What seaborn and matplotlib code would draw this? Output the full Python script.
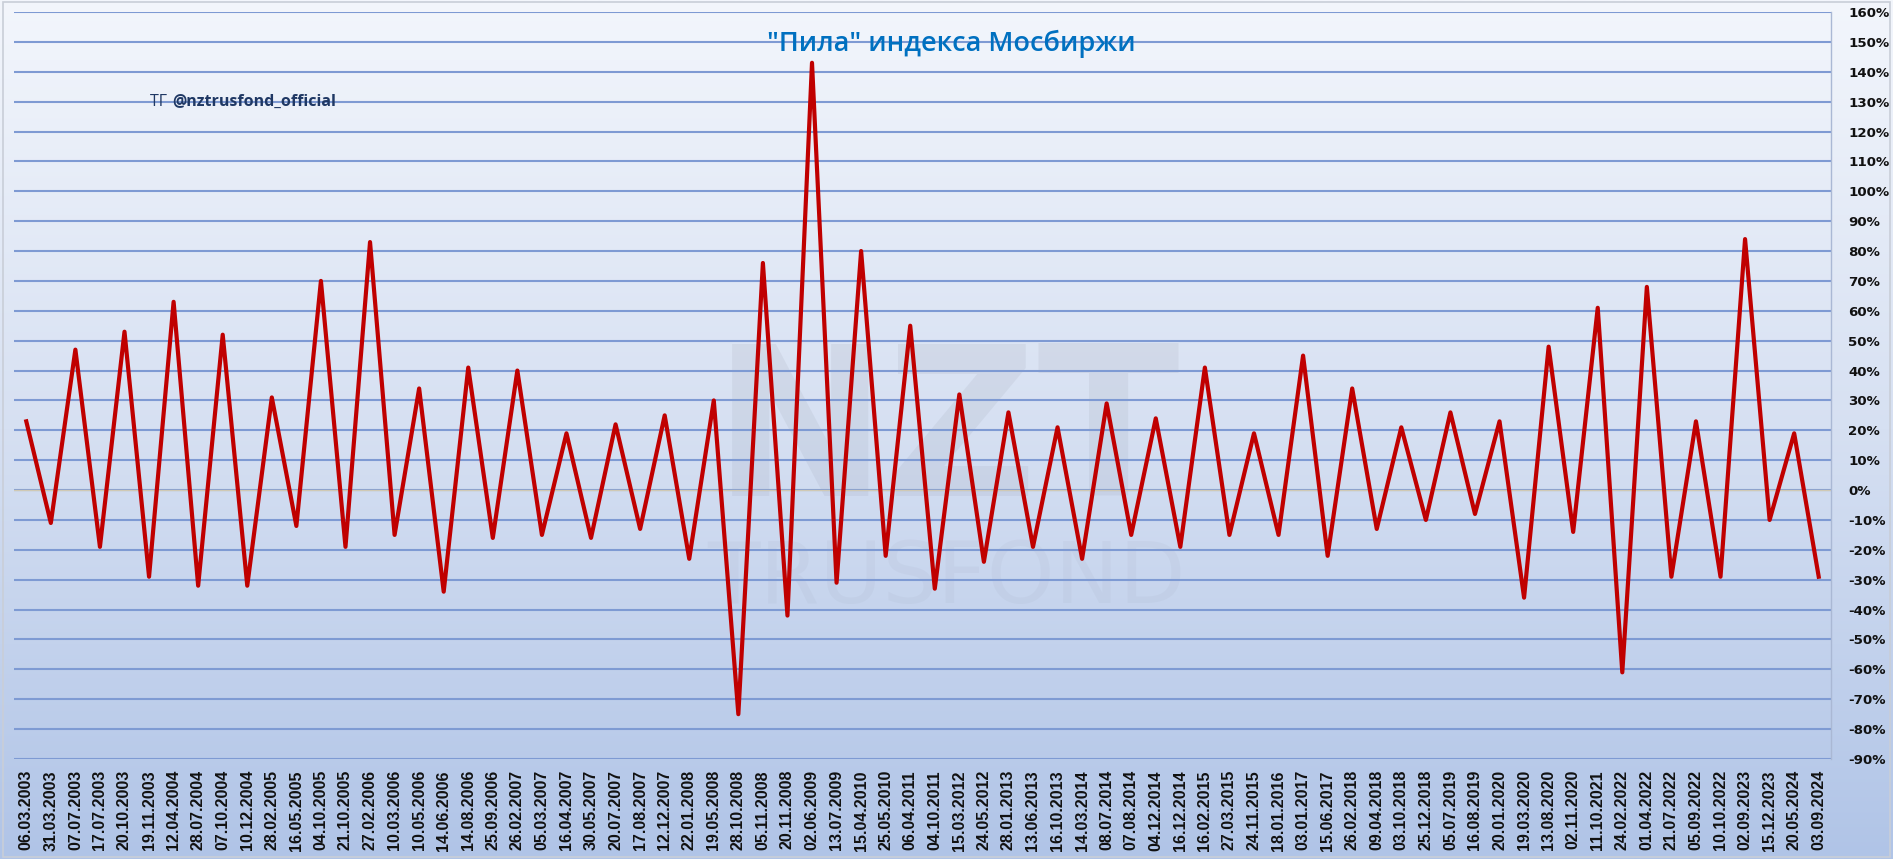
import numpy as np
import pandas as pd
import matplotlib
matplotlib.use("Agg")
import matplotlib.pyplot as plt
import seaborn as sns
from matplotlib.ticker import MultipleLocator, FuncFormatter

dates = [
    "06.03.2003", "31.03.2003", "07.07.2003", "17.07.2003", "20.10.2003", "19.11.2003",
    "12.04.2004", "28.07.2004", "07.10.2004", "10.12.2004", "28.02.2005", "16.05.2005",
    "04.10.2005", "21.10.2005", "27.02.2006", "10.03.2006", "10.05.2006", "14.06.2006",
    "14.08.2006", "25.09.2006", "26.02.2007", "05.03.2007", "16.04.2007", "30.05.2007",
    "20.07.2007", "17.08.2007", "12.12.2007", "22.01.2008", "19.05.2008", "28.10.2008",
    "05.11.2008", "20.11.2008", "02.06.2009", "13.07.2009", "15.04.2010", "25.05.2010",
    "06.04.2011", "04.10.2011", "15.03.2012", "24.05.2012", "28.01.2013", "13.06.2013",
    "16.10.2013", "14.03.2014", "08.07.2014", "07.08.2014", "04.12.2014", "16.12.2014",
    "16.02.2015", "27.03.2015", "24.11.2015", "18.01.2016", "03.01.2017", "15.06.2017",
    "26.02.2018", "09.04.2018", "03.10.2018", "25.12.2018", "05.07.2019", "16.08.2019",
    "20.01.2020", "19.03.2020", "13.08.2020", "02.11.2020", "11.10.2021", "24.02.2022",
    "01.04.2022", "21.07.2022", "05.09.2022", "10.10.2022", "02.09.2023", "15.12.2023",
    "20.05.2024", "03.09.2024",
]
changes_pct = [
    23, -11, 47, -19, 53, -29, 63, -32, 52, -32, 31, -12,
    70, -19, 83, -15, 34, -34, 41, -16, 40, -15, 19, -16,
    22, -13, 25, -23, 30, -75, 76, -42, 143, -31, 80, -22,
    55, -33, 32, -24, 26, -19, 21, -23, 29, -15, 24, -19,
    41, -15, 19, -15, 45, -22, 34, -13, 21, -10, 26, -8,
    23, -36, 48, -14, 61, -61, 68, -29, 23, -29, 84, -10,
    19, -29,
]
title_text = '"Пила" индекса Мосбиржи'
tg_prefix = "ТГ "
tg_handle = "@nztrusfond_official"

df = pd.DataFrame({"date": dates, "change": changes_pct})

W, H = 1893, 859
fig = plt.figure(figsize=(W / 100, H / 100), dpi=100)

# background gradient (chart area)
bg = fig.add_axes([0, 0, 1, 1], zorder=-5)
top = np.array([243, 246, 252]) / 255
mid = np.array([214, 224, 242]) / 255
bot = np.array([176, 196, 231]) / 255
t = np.linspace(0, 1, 400)[:, None]
grad = np.where(t < 0.5, top + (mid - top) * (t / 0.5), mid + (bot - mid) * ((t - 0.5) / 0.5))
img = np.repeat(grad[:, None, :], 2, axis=1)
bg.imshow(img, aspect="auto", extent=[0, 1, 0, 1], origin="upper")
bg.set_xlim(0, 1); bg.set_ylim(0, 1)
bg.axis("off")
# faint watermark
bg.text(0.5, 0.49, "NZT", fontsize=150, fontweight="bold", color="#7a7f8f", alpha=0.10,
        ha="center", va="center", family="DejaVu Sans")
bg.text(0.5, 0.325, "TRUSFOND", fontsize=62, color="#7a7f8f", alpha=0.06,
        ha="center", va="center", family="DejaVu Sans")
bg.add_patch(plt.Rectangle((0.0015, 0.002), 0.997, 0.996, fill=False, ec="#c9ced8", lw=1.2))

left, right = 14 / W, 1831 / W
bottom_px, top_px = 759, 12
ax = fig.add_axes([left, 1 - bottom_px / H, right - left, (bottom_px - top_px) / H])
ax.set_facecolor("none")

sns.lineplot(data=df, x="date", y="change", sort=False, ax=ax,
             color="#C00000", linewidth=3.0, zorder=3)

ax.set_xlim(-0.5, len(dates) - 0.5)
ax.set_ylim(-90, 160)
ax.yaxis.set_major_locator(MultipleLocator(10))
ax.yaxis.set_major_formatter(FuncFormatter(lambda v, p: f"{v:.0f}%"))
ax.grid(axis="y", color="#7e9ad3", linewidth=1.5, zorder=1)
ax.grid(axis="x", visible=False)
ax.axhline(0, color="#d0c9b4", linewidth=1.0, zorder=2)
ax.set_xlabel("")
ax.set_ylabel("")
for s in ["top", "left", "bottom"]:
    ax.spines[s].set_visible(False)
ax.spines["right"].set_color("#aab8d4")
ax.spines["right"].set_linewidth(1.0)

ax.tick_params(axis="x", length=0, pad=8, labelrotation=90)
ax.yaxis.set_tick_params(which="major", length=0, pad=12.5, left=False, right=False,
                         labelleft=False, labelright=True)
for lab in ax.get_xticklabels():
    lab.set_fontfamily("Liberation Sans")
    lab.set_fontweight("bold")
    lab.set_fontsize(11.5)
    lab.set_color("#111111")
for tk in ax.yaxis.get_major_ticks():
    lab = tk.label2
    lab.set_fontfamily("DejaVu Sans")
    lab.set_fontweight("bold")
    lab.set_fontsize(9.6)
    lab.set_color("#111111")

fig.text(951 / W, 1 - 44 / H, title_text, ha="center", va="center",
         fontsize=19.5, color="#0070C0", family="Open Sans", fontweight="semibold")
fig.text(150 / W, 1 - 102 / H, tg_prefix, ha="left", va="center",
         fontsize=11.5, color="#1f3864", family="Open Sans")
fig.text(172 / W, 1 - 102 / H, tg_handle, ha="left", va="center",
         fontsize=11.5, color="#1f3864", family="Open Sans", fontweight="bold")

fig.savefig("out.png", dpi=100)
